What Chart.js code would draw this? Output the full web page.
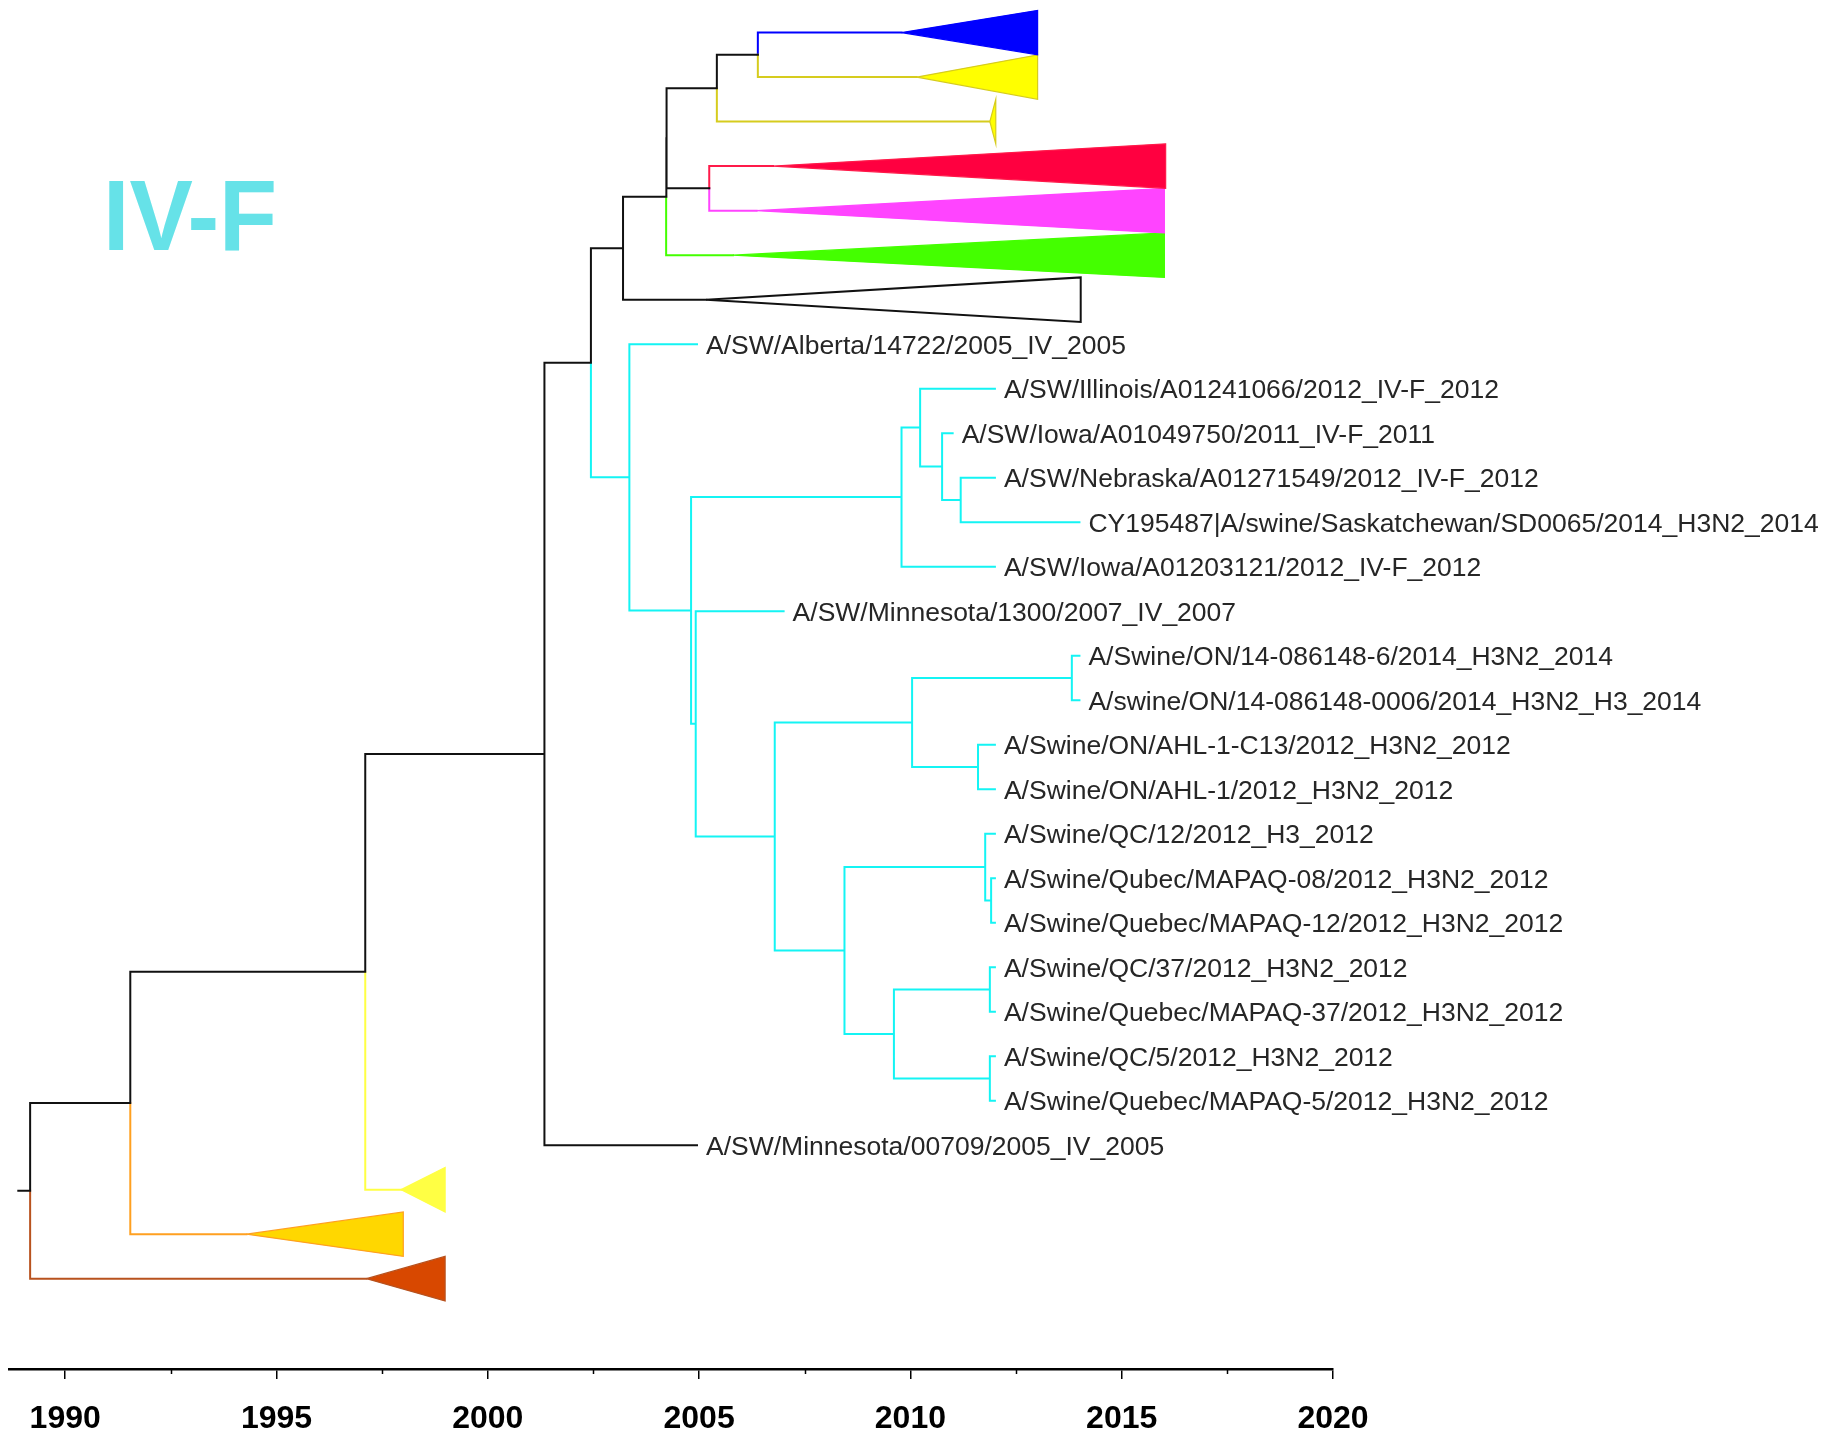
<!DOCTYPE html>
<html><head><meta charset="utf-8">
<script src="https://cdn.jsdelivr.net/npm/chart.js@4.4.1/dist/chart.umd.min.js"></script>
<style>html,body{margin:0;padding:0;background:#fff;}canvas{display:block}</style>
</head><body>
<canvas id="c" width="1824" height="1440"></canvas>
<script>
// ---------- data ----------
const yearTicks  = [1990, 1995, 2000, 2005, 2010, 2015, 2020];
const minorTicks = [1992.5, 1997.5, 2002.5, 2007.5, 2012.5, 2017.5];
const rootStubYear = 1988.89;

// internal nodes (branch colour = colour of the branch leading to the node)
const nodeNames   = ['root','A','B','C','D','V','W2','W1','X','Z','Y','E','F','K','G','H','I','J','L','M','O','P','N','T','U','Q','R','S'];
const nodeParents = [null,'root','A','B','C','D','V','W2','W1','X','W1','D','E','F','F','G','H','I','K','L','M','M','L','N','T','N','Q','Q'];
const nodeYears   = [1989.17,1991.54,1997.10,2001.34,2002.44,2003.20,2004.22,2004.23,2005.42,2006.39,2005.24,2003.35,2004.81,2004.92,2009.79,2010.23,2010.75,2011.19,2006.79,2010.04,2013.82,2011.60,2008.44,2011.77,2011.91,2009.61,2011.88,2011.88];
const nodeColors  = ['k','k','k','k','k','k','k','k','k','k','k','c','c','c','c','c','c','c','c','c','c','c','c','c','c','c','c','c'];

// labelled tips
const tipNames = [
 'A/SW/Alberta/14722/2005_IV_2005',
 'A/SW/Illinois/A01241066/2012_IV-F_2012',
 'A/SW/Iowa/A01049750/2011_IV-F_2011',
 'A/SW/Nebraska/A01271549/2012_IV-F_2012',
 'CY195487|A/swine/Saskatchewan/SD0065/2014_H3N2_2014',
 'A/SW/Iowa/A01203121/2012_IV-F_2012',
 'A/SW/Minnesota/1300/2007_IV_2007',
 'A/Swine/ON/14-086148-6/2014_H3N2_2014',
 'A/swine/ON/14-086148-0006/2014_H3N2_H3_2014',
 'A/Swine/ON/AHL-1-C13/2012_H3N2_2012',
 'A/Swine/ON/AHL-1/2012_H3N2_2012',
 'A/Swine/QC/12/2012_H3_2012',
 'A/Swine/Qubec/MAPAQ-08/2012_H3N2_2012',
 'A/Swine/Quebec/MAPAQ-12/2012_H3N2_2012',
 'A/Swine/QC/37/2012_H3N2_2012',
 'A/Swine/Quebec/MAPAQ-37/2012_H3N2_2012',
 'A/Swine/QC/5/2012_H3N2_2012',
 'A/Swine/Quebec/MAPAQ-5/2012_H3N2_2012',
 'A/SW/Minnesota/00709/2005_IV_2005'];
const tipRows    = [8,9,10,11,12,13,14,15,16,17,18,19,20,21,22,23,24,25,26];
const tipParents = ['E','H','I','J','J','G','K','O','O','P','P','T','U','U','R','R','S','S','C'];
const tipYears   = [2004.95,2012.0,2011.0,2012.0,2014.0,2012.0,2007.0,2014.0,2014.0,2012.0,2012.0,2012.0,2012.0,2012.0,2012.0,2012.0,2012.0,2012.0,2004.95];
const tipColors  = ['c','c','c','c','c','c','c','c','c','c','c','c','c','c','c','c','c','c','k'];

// collapsed clades (triangles)
const cladeRows    = [1,2,3,4,5,6,7,27,28,29];
const cladeParents = ['Z','Z','X','Y','Y','W2','V','B','A','root'];
const cladeApex    = [2009.79,2010.15,2011.88,2006.75,2006.36,2005.80,2005.17,1997.95,1994.29,1997.13];
const cladeEnd     = [2013.01,2013.01,2012.02,2016.04,2016.01,2016.01,2014.03,1998.99,1998.00,1998.99];
const cladeFill    = ['#0000ff','#ffff00','#ffff00','#ff0040','#ff44ff','#44ff00','#ffffff','#ffff44','#ffd700','#d84800'];
const cladeLine    = ['#0000ff','#d6cc1e','#d6cc1e','#ff1a4a','#ff44ff','#44ff00','#111111','#ffff44','#ffa020','#b8521e'];

const palette = {k:'#111111', c:'#14f4f4'};

// ---------- tree layout ----------
const nodeIdx = {}; nodeNames.forEach((n,i)=>nodeIdx[n]=i);
const children = {}; nodeNames.forEach(n=>children[n]=[]);
nodeNames.forEach((n,i)=>{ if(nodeParents[i]) children[nodeParents[i]].push({type:'node', i}); });
tipNames.forEach((n,i)=>children[tipParents[i]].push({type:'tip', i}));
cladeRows.forEach((r,i)=>children[cladeParents[i]].push({type:'clade', i}));
const nodeRow = {};
function rowOf(ch){
  if(ch.type==='tip') return tipRows[ch.i];
  if(ch.type==='clade') return cladeRows[ch.i];
  return layout(nodeNames[ch.i]);
}
function layout(n){
  if(nodeRow[n]!==undefined) return nodeRow[n];
  const rs = children[n].map(rowOf);
  nodeRow[n] = (Math.min(...rs)+Math.max(...rs))/2;
  return nodeRow[n];
}
layout('root');

// branch segments grouped by colour
const groups = {};
function addSeg(color, pts){
  if(!groups[color]) groups[color]=[];
  if(groups[color].length) groups[color].push({x:null,y:null});
  pts.forEach(p=>groups[color].push(p));
}
addSeg(palette.k, [{x:rootStubYear,y:nodeRow.root},{x:nodeYears[0],y:nodeRow.root}]);
nodeNames.forEach(n=>{
  const px = nodeYears[nodeIdx[n]], py = nodeRow[n];
  children[n].forEach(ch=>{
    const cy = rowOf(ch);
    let cx, col;
    if(ch.type==='node'){ cx=nodeYears[ch.i]; col=palette[nodeColors[ch.i]]; }
    else if(ch.type==='tip'){ cx=tipYears[ch.i]; col=palette[tipColors[ch.i]]; }
    else { cx=cladeApex[ch.i]; col=cladeLine[ch.i]; }
    addSeg(col, [{x:px,y:py},{x:px,y:cy},{x:cx,y:cy}]);
  });
});

const datasets = [];
cladeRows.forEach((r,i)=>{
  datasets.push({
    data:[{x:cladeApex[i],y:r},{x:cladeEnd[i],y:r-0.5},{x:cladeEnd[i],y:r+0.5},{x:cladeApex[i],y:r}],
    showLine:true, fill:'shape', backgroundColor:cladeFill[i], borderColor:cladeLine[i],
    borderWidth: cladeFill[i]==='#ffffff'?2:1.2, pointRadius:0, tension:0, borderJoinStyle:'miter'
  });
});
Object.keys(groups).forEach(col=>{
  datasets.push({data:groups[col], showLine:true, fill:false, borderColor:col, borderWidth:2,
    pointRadius:0, spanGaps:false, tension:0, borderCapStyle:'square', borderJoinStyle:'miter'});
});

const treeText = {
  id:'treeText',
  afterDraw(chart){
    const ctx = chart.ctx, xs = chart.scales.x, ys = chart.scales.y;
    ctx.save();
    // minor ticks
    ctx.strokeStyle='#000'; ctx.lineWidth=1.5;
    const b = chart.chartArea.bottom;
    minorTicks.forEach(v=>{
      const px = Math.round(xs.getPixelForValue(v))+0.5;
      ctx.beginPath(); ctx.moveTo(px,b); ctx.lineTo(px,b+5); ctx.stroke();
    });
    // tip labels
    ctx.fillStyle='#262626'; ctx.font='26.5px "Liberation Sans", Arial, sans-serif';
    ctx.textBaseline='middle'; ctx.textAlign='left';
    tipNames.forEach((t,i)=>{
      ctx.fillText(t, xs.getPixelForValue(tipYears[i])+9, ys.getPixelForValue(tipRows[i])+2.5);
    });
    // clade title
    ctx.fillStyle='#66e2e8';
    ctx.font='bold 101px "Liberation Sans", Arial, sans-serif';
    ctx.textBaseline='alphabetic';
    ctx.translate(103,250); ctx.scale(0.94,1);
    ctx.fillText('IV-F',0,0);
    ctx.restore();
  }
};

new Chart(document.getElementById('c'), {
  type:'scatter',
  data:{datasets},
  options:{
    responsive:false, animation:false, devicePixelRatio:1,
    layout:{padding:{left:9,right:491,top:0,bottom:0}},
    plugins:{legend:{display:false}, tooltip:{enabled:false}, filler:{propagate:false}},
    scales:{
      x:{type:'linear', min:1988.67, max:2020,
         afterBuildTicks:s=>{ s.ticks = yearTicks.map(v=>({value:v})); },
         afterFit:s=>{ s.height = 71; },
         grid:{drawOnChartArea:false, drawTicks:true, tickLength:10, color:'#000', lineWidth:1.5},
         border:{display:true, color:'#000', width:2.5},
         ticks:{font:{family:'"Liberation Sans", Arial, sans-serif', size:32, weight:'bold'}, color:'#000',
                padding:21, maxRotation:0, autoSkip:false, callback:v=>String(v)}},
      y:{type:'linear', display:false, reverse:true, min:0.267, max:31.03}
    }
  },
  plugins:[treeText]
});
</script></body></html>
